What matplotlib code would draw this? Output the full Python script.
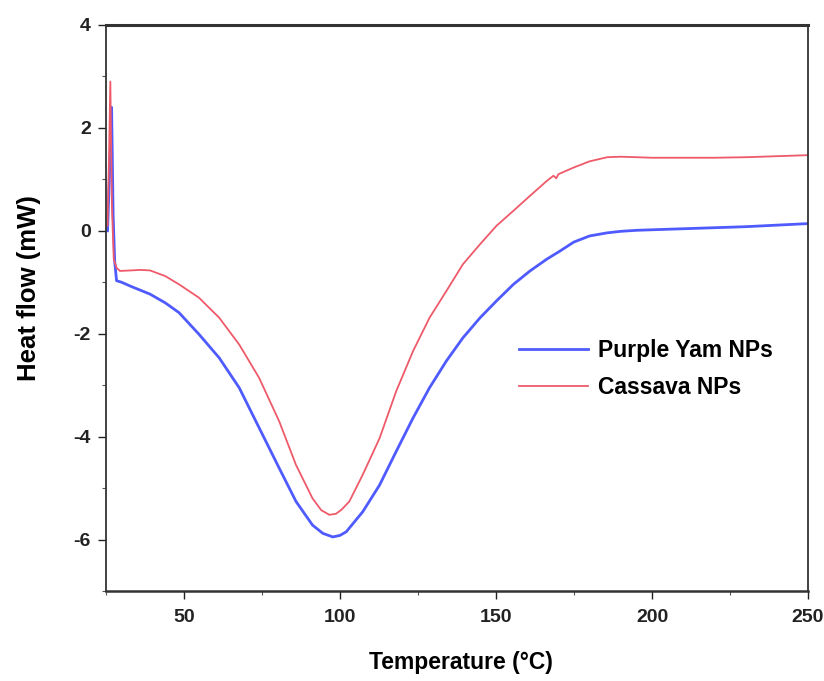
import matplotlib
matplotlib.use("Agg")
import matplotlib.pyplot as plt
from matplotlib.ticker import MultipleLocator

# ------------------ DATA ------------------
yam_temp = [25.5, 26.2, 26.8, 27.3, 27.8, 28.4, 30.0, 33.0, 39.1, 44.0, 48.4, 54.8,
            61.3, 67.7, 74.1, 80.5, 85.9, 91.2, 94.5, 97.7, 100.0, 102.0, 107.3,
            112.7, 118.0, 123.4, 128.7, 134.1, 139.4, 144.9, 150.2, 155.6, 160.9,
            166.3, 170.6, 174.9, 180.0, 185.6, 190.0, 195.2, 200.0, 210.0, 220.0,
            230.0, 240.0, 250.0]
yam_flow = [0.0, 1.2, 2.4, 0.3, -0.6, -0.97, -1.0, -1.08, -1.23, -1.40, -1.59, -2.01,
            -2.47, -3.05, -3.83, -4.61, -5.26, -5.72, -5.88, -5.95, -5.92, -5.85, -5.46,
            -4.94, -4.29, -3.64, -3.05, -2.53, -2.08, -1.69, -1.36, -1.04, -0.78,
            -0.55, -0.39, -0.22, -0.10, -0.04, -0.01, 0.01, 0.02, 0.04, 0.06,
            0.08, 0.11, 0.14]

cas_temp = [25.5, 26.0, 26.4, 26.9, 27.5, 28.4, 29.5, 33.0, 36.0, 39.1, 44.0, 48.4,
            54.8, 61.3, 67.7, 74.1, 80.5, 85.9, 91.2, 94.0, 96.6, 98.7, 100.5, 103.0,
            107.3, 112.7, 118.0, 123.4, 128.7, 134.1, 139.4, 144.9, 150.2, 155.6,
            160.9, 166.3, 168.4, 169.3, 170.0, 174.9, 180.0, 185.6, 190.0, 195.2,
            200.0, 210.0, 220.0, 230.0, 240.0, 250.0]
cas_flow = [0.1, 1.5, 2.9, 0.5, -0.55, -0.72, -0.78, -0.77, -0.76, -0.77, -0.88, -1.04,
            -1.30, -1.69, -2.21, -2.86, -3.70, -4.55, -5.20, -5.43, -5.52, -5.50, -5.42,
            -5.26, -4.74, -4.03, -3.12, -2.34, -1.69, -1.17, -0.65, -0.26, 0.10, 0.39,
            0.68, 0.97, 1.07, 1.02, 1.10, 1.23, 1.35, 1.43, 1.44, 1.43,
            1.42, 1.42, 1.42, 1.43, 1.45, 1.47]

x_ticks = [50, 100, 150, 200, 250]
y_ticks = [-6, -4, -2, 0, 2, 4]

# ------------------ PLOT ------------------
plt.rcParams['font.family'] = ['Liberation Sans', 'DejaVu Sans']
plt.rcParams['font.weight'] = 'bold'
plt.rcParams['axes.unicode_minus'] = False

fig = plt.figure(figsize=(8.24, 6.81), dpi=100)
ax = fig.add_axes([0.1286, 0.1322, 0.852, 0.8311])

ax.plot(yam_temp, yam_flow, color='#4f5bff', lw=2.0, label='Purple Yam NPs')
ax.plot(cas_temp, cas_flow, color='#ee5a6a', lw=1.3, label='Cassava NPs')

ax.set_xlim(25, 250)
ax.set_ylim(-7, 4)
ax.set_xticks(x_ticks)
ax.set_yticks(y_ticks)
ax.xaxis.set_minor_locator(MultipleLocator(25))
ax.yaxis.set_minor_locator(MultipleLocator(1))

ax.tick_params(which='major', direction='out', length=6, width=1.0, labelsize=14,
               colors='#222222', pad=5)
ax.tick_params(axis='x', which='major', pad=7)
ax.tick_params(which='minor', direction='out', length=3, width=0.8, colors='#555555')
for lab in ax.get_xticklabels() + ax.get_yticklabels():
    lab.set_fontweight('bold')

for side in ['left', 'bottom', 'top', 'right']:
    ax.spines[side].set_color('#333333')
    ax.spines[side].set_linewidth(1.3)
ax.spines['top'].set_linewidth(2.2)
ax.spines['bottom'].set_linewidth(1.8)

ax.set_xlabel('Temperature (°C)', fontsize=16.5, fontweight='bold')
ax.xaxis.set_label_coords(0.505, -0.106)
ax.set_ylabel('Heat flow (mW)', fontsize=18.5, fontweight='bold')
ax.yaxis.set_label_coords(-0.093, 0.535)

leg = ax.legend(loc='upper left', bbox_to_anchor=(0.575, 0.461), frameon=False,
                prop={'size': 16.5, 'weight': 'bold'}, handlelength=3.0,
                handletextpad=0.45, labelspacing=0.6, borderaxespad=0)

fig.savefig('out.png', dpi=100, facecolor='white')
